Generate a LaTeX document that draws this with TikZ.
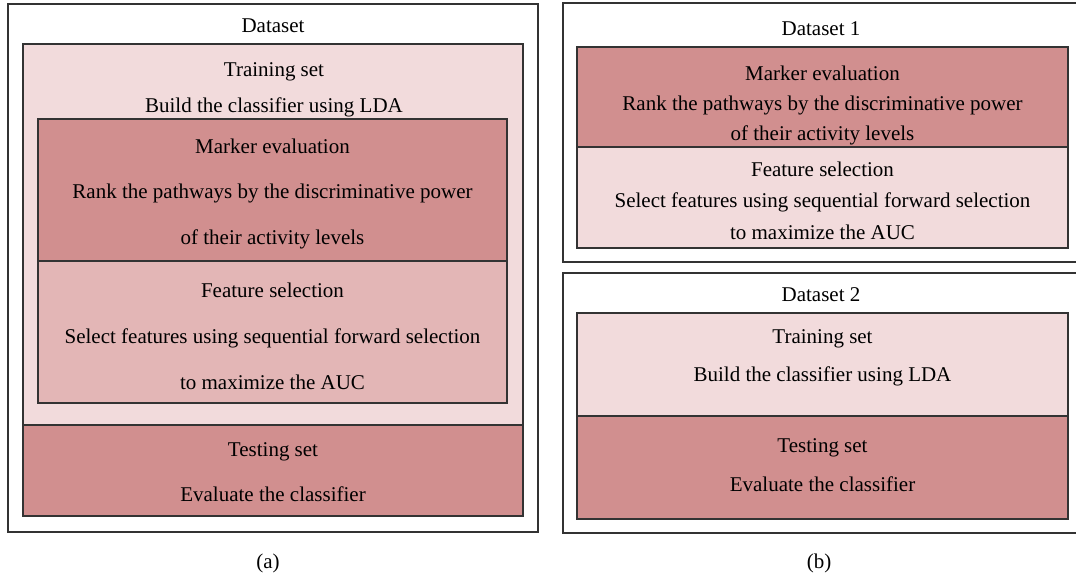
\documentclass[tikz,border=0pt]{standalone}
\usepackage{fontspec}
\setmainfont{Liberation Serif}
\definecolor{rosedark}{RGB}{209,143,143}
\definecolor{rosemid}{RGB}{227,182,182}
\definecolor{roselight}{RGB}{242,219,220}
\tikzset{
  panel/.style={draw=black!80, line width=1.2pt, inner sep=0pt, outer sep=0pt},
  txt/.style={align=center, inner sep=0pt, font=\fontsize{21}{#1}\selectfont},
  txt/.default=25
}
\begin{document}
\begin{tikzpicture}[x=1pt, y=-1pt]
    \useasboundingbox (0,0) rectangle (1076,575);

    % Panel (a): one dataset split in training and testing
    \node[panel, minimum width=530, minimum height=528] (setA) at (273,268) {};
    \node[panel, fill=roselight, minimum width=500, minimum height=381] (trainA) at (273,234.5) {};
    \node[panel, fill=rosedark, minimum width=469, minimum height=142] (markA) at (272.5,190) {};
    \node[panel, fill=rosemid, minimum width=469, minimum height=142] (featA) at (272.5,332) {};
    \node[panel, fill=rosedark, minimum width=500, minimum height=91] (testA) at (273,470.5) {};

    \node[txt] (setAlbl) at (273,26) {Dataset};
    \node[txt=36] (trainAlbl) at (274,90) {Training set\\Build the classifier using LDA};
    \node[txt=45.5] (markAlbl) at (272.5,193.5) {Marker evaluation\\Rank the pathways by the discriminative power\\of their activity levels};
    \node[txt=46] (featAlbl) at (272.5,336) {Feature selection\\Select features using sequential forward selection\\to maximize the AUC};
    \node[txt=45] (testAlbl) at (273,472.5) {Testing set\\Evaluate the classifier};

    % Panel (b): two separate datasets
    \node[panel, minimum width=515, minimum height=259] (setB) at (820.5,132.5) {};
    \node[panel, fill=rosedark, minimum width=491, minimum height=100] (markB) at (822.5,97) {};
    \node[panel, fill=roselight, minimum width=491, minimum height=101] (featB) at (822.5,197.5) {};
    \node[panel, minimum width=515, minimum height=260] (setC) at (820.5,403) {};
    \node[panel, fill=roselight, minimum width=491, minimum height=103] (trainC) at (822.5,364.5) {};
    \node[panel, fill=rosedark, minimum width=491, minimum height=103] (testC) at (822.5,467.5) {};

    \node[txt] (setBlbl) at (821,29) {Dataset 1};
    \node[txt=30] (markBlbl) at (822.5,105) {Marker evaluation\\Rank the pathways by the discriminative power\\of their activity levels};
    \node[txt=31.5] (featBlbl) at (822.5,200.5) {Feature selection\\Select features using sequential forward selection\\to maximize the AUC};
    \node[txt] (setClbl) at (821,295) {Dataset 2};
    \node[txt=38] (trainClbl) at (822.5,358) {Training set\\Build the classifier using LDA};
    \node[txt=39] (testClbl) at (822.5,465.5) {Testing set\\Evaluate the classifier};

    % Sub-figure tags
    \node[txt] (tagA) at (268,563) {(a)};
    \node[txt] (tagB) at (819,563) {(b)};

\end{tikzpicture}
\end{document}
